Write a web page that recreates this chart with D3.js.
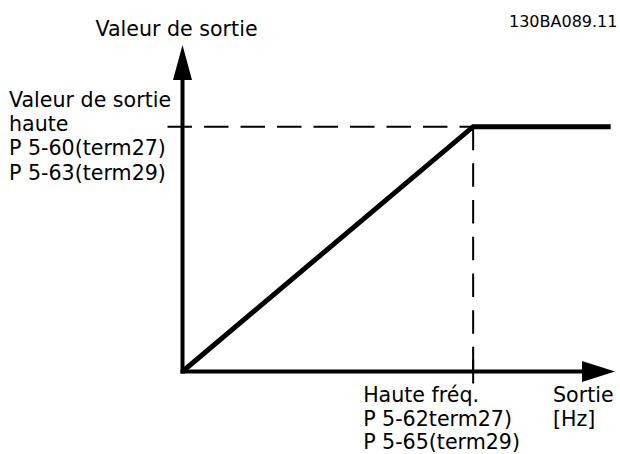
<!DOCTYPE html>
<html>
<head>
<meta charset="utf-8">
<script src="https://cdnjs.cloudflare.com/ajax/libs/d3/7.8.5/d3.min.js"></script>
<style>
  html, body { margin: 0; padding: 0; background: #fff; }
  svg { display: block; }
</style>
</head>
<body>
<div id="chart"></div>
<script>
// curve points: output frequency (% of axis) -> output value (% of axis)
const freq = [0, 67.2, 99];
const output = [0, 75, 75];
const axisMax = 100;
const highFreq = 67.2;
const highValue = 75;

const yTitle = "Valeur de sortie";
const yLabelLines = ["Valeur de sortie", "haute", "P 5-60(term27)", "P 5-63(term29)"];
const xLabelLines = ["Haute fréq.", "P 5-62term27)", "P 5-65(term29)"];
const xTitleLines = ["Sortie", "[Hz]"];
const figId = "130BA089.11";

const svgWidth = 620;
const svgHeight = 454;
const font = "'DejaVu Sans', Verdana, sans-serif";
const fontSize = "20.6px";

const svg = d3
    .select("#chart")
    .append("svg")
    .attr("width", svgWidth)
    .attr("height", svgHeight)
    .attr("viewBox", `0 0 ${svgWidth} ${svgHeight}`);

const x = d3.scaleLinear().domain([0, axisMax]).range([182.5, 615]);
const y = d3.scaleLinear().domain([0, axisMax]).range([371.5, 45]);

const arrowLen = 35;

// dashed guides
svg.append("line")
    .attr("x1", x(0) - 15)
    .attr("x2", x(highFreq))
    .attr("y1", y(highValue))
    .attr("y2", y(highValue))
    .attr("stroke", "#000")
    .attr("stroke-width", 2)
    .attr("stroke-dasharray", "24.5,12");

svg.append("line")
    .attr("x1", x(highFreq))
    .attr("x2", x(highFreq))
    .attr("y1", y(highValue))
    .attr("y2", y(0))
    .attr("stroke", "#000")
    .attr("stroke-width", 2)
    .attr("stroke-dasharray", "23.5,13.2");

svg.append("line")
    .attr("x1", x(highFreq))
    .attr("x2", x(highFreq))
    .attr("y1", y(0) - 12)
    .attr("y2", y(0) + 12)
    .attr("stroke", "#000")
    .attr("stroke-width", 2);

// axes with arrow heads
svg.append("line")
    .attr("x1", x(0))
    .attr("x2", x(0))
    .attr("y1", y(0) + 2)
    .attr("y2", y(axisMax) + arrowLen)
    .attr("stroke", "#000")
    .attr("stroke-width", 4);

svg.append("path")
    .attr("d", `M${x(0)},${y(axisMax)}L${x(0) - 9.5},${y(axisMax) + arrowLen}L${x(0) + 9.5},${y(axisMax) + arrowLen}Z`)
    .attr("fill", "#000");

svg.append("line")
    .attr("x1", x(0) - 2)
    .attr("x2", x(axisMax) - arrowLen + 2)
    .attr("y1", y(0))
    .attr("y2", y(0))
    .attr("stroke", "#000")
    .attr("stroke-width", 4);

svg.append("path")
    .attr("d", `M${x(axisMax)},${y(0)}L${x(axisMax) - arrowLen + 2},${y(0) - 10.5}L${x(axisMax) - arrowLen + 2},${y(0) + 10.5}Z`)
    .attr("fill", "#000");

// output curve
const line = d3.line()
    .x((d, i) => x(freq[i]))
    .y((d, i) => y(output[i]));

svg.append("path")
    .datum(freq)
    .attr("d", line)
    .attr("fill", "none")
    .attr("stroke", "#000")
    .attr("stroke-width", 5)
    .attr("stroke-linejoin", "miter");

// texts
svg.append("text")
    .text(yTitle)
    .attr("x", x(0) - 6)
    .attr("y", 36)
    .attr("text-anchor", "middle")
    .attr("font-family", font)
    .attr("font-size", fontSize);

svg.append("text")
    .text(figId)
    .attr("x", 509)
    .attr("y", 27)
    .attr("font-family", font)
    .attr("font-size", "16px");

svg.append("g")
    .selectAll("text")
    .data(yLabelLines)
    .join("text")
    .text(d => d)
    .attr("x", 9)
    .attr("y", (d, i) => y(highValue) - 20 + i * 24.4)
    .attr("font-family", font)
    .attr("font-size", fontSize);

svg.append("g")
    .selectAll("text")
    .data(xLabelLines)
    .join("text")
    .text(d => d)
    .attr("x", x(highFreq) - 110)
    .attr("y", (d, i) => y(0) + 30.5 + i * 23.5)
    .attr("font-family", font)
    .attr("font-size", fontSize);

svg.append("g")
    .selectAll("text")
    .data(xTitleLines)
    .join("text")
    .text(d => d)
    .attr("x", 553)
    .attr("y", (d, i) => y(0) + 30.5 + i * 23.5)
    .attr("font-family", font)
    .attr("font-size", fontSize);
</script>
</body>
</html>
